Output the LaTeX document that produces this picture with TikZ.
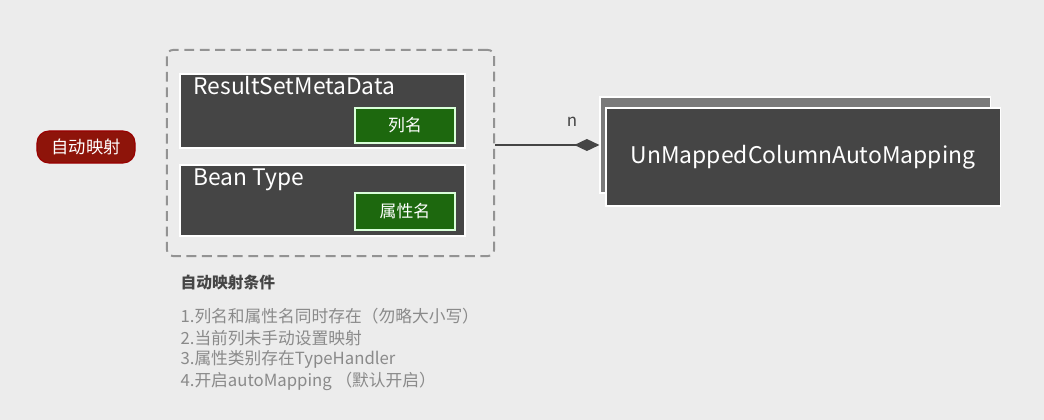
\documentclass[tikz,border=0pt]{standalone}
\usepackage{fontspec}
\setmainfont{Noto Sans CJK SC}
\usepackage{tikz}
\usetikzlibrary{shapes, arrows.meta, calc, positioning}

\definecolor{bgcol}{HTML}{ECECEC}
\definecolor{boxcol}{HTML}{454545}
\definecolor{backcol}{HTML}{7A7A7A}
\definecolor{greencol}{HTML}{1D680E}
\definecolor{redcol}{HTML}{8E140A}
\definecolor{textgray}{HTML}{8A8A8A}
\newcommand{\fsize}[1]{\fontsize{#1}{#1}\selectfont}

\tikzset{
  darkbox/.style={draw=white, line width=0.8pt, fill=boxcol, inner sep=0pt},
  greenbox/.style={draw=green!15!white, line width=0.8pt, fill=greencol, text=white,
    minimum width=2.5cm, inner sep=0pt, font=\fsize{12pt}},
  boxtitle/.style={text=white, inner sep=0pt, anchor=base west, font=\fsize{16.2pt}},
  item/.style={text=textgray, inner sep=0pt, anchor=west, font=\fsize{11.9pt}}
}

\begin{document}
\begin{tikzpicture}[x=0.025cm, y=-0.025cm, style=thick]
            \fill[bgcol] (0,0) rectangle (1044,420);

            % badge
            \node[fill=redcol, draw=red!60!black, rounded corners=0.3cm, minimum width=2.45cm,
                  minimum height=0.8cm, text=white, font=\fsize{12.3pt}] (badge) at (86,147) {自动映射};

            % dashed group
            \node[draw=gray!85, dash pattern=on 7pt off 4pt, line width=1.4pt, rounded corners=0.15cm,
                  minimum width=8.175cm, minimum height=5.15cm] (group) at (330.5,153) {};

            \node[darkbox, minimum width=7.125cm, minimum height=1.85cm] (meta) at (322.5,111) {};
            \node[darkbox, minimum width=7.125cm, minimum height=1.775cm] (bean) at (322.5,200.5) {};

            \node[boxtitle] (metatitle) at (193,94) {ResultSetMetaData};
            \node[boxtitle] (beantitle) at (193,185) {Bean Type};

            \node[greenbox, minimum height=0.875cm] (colname) at (405,125.5) {列名};
            \node[greenbox, minimum height=0.925cm] (propname) at (405,211.5) {属性名};

            % mapping boxes
            \node[darkbox, fill=backcol, minimum width=9.75cm, minimum height=2.4cm] (back) at (795,145) {};
            \node[darkbox, minimum width=9.85cm, minimum height=2.45cm, text=white,
                  font=\fsize{16.3pt}] (mapper) at (803,157) {UnMappedColumnAutoMapping};

            \draw[line width=1.4pt, draw=boxcol, -{Diamond[length=0.625cm, width=0.3cm]}]
                (group.east |- back.west) -- (back.west);
            \node[text=boxcol, font=\fsize{12pt}] (n) at (572,122) {n};

            % conditions
            \node[text=boxcol, inner sep=0pt, anchor=west, font=\bfseries\fsize{11.2pt}] (condtitle) at (180,283) {自动映射条件};
            \node[item] (cond1) at (180,316) {1.列名和属性名同时存在（勿略大小写）};
            \node[item] (cond2) at (180,338) {2.当前列未手动设置映射};
            \node[item] (cond3) at (180,359) {3.属性类别存在TypeHandler};
            \node[item] (cond4) at (180,381) {4.开启autoMapping （默认开启）};
\end{tikzpicture}
\end{document}
